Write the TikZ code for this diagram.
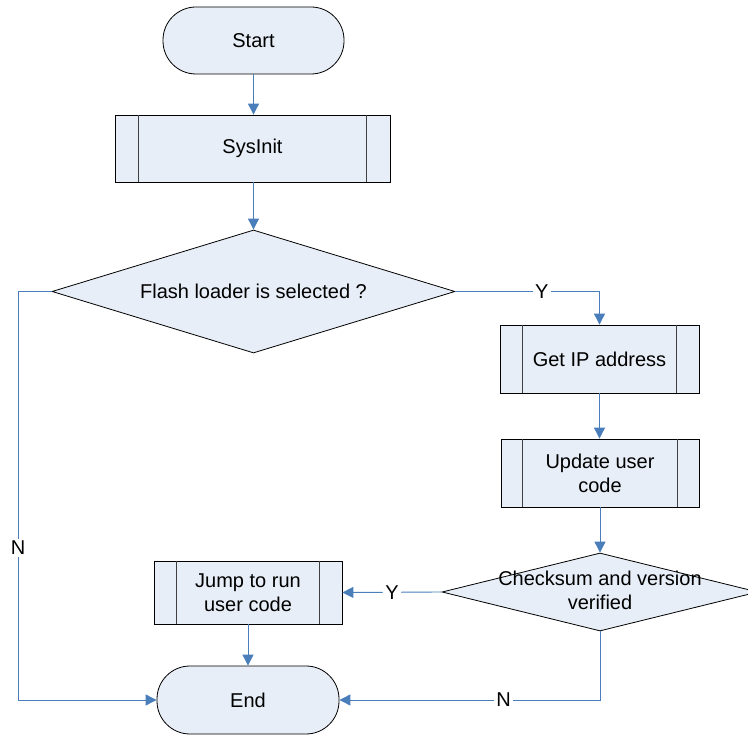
\documentclass[tikz,border=0pt]{standalone}
\usepackage{fontspec}
\setmainfont{Liberation Sans}
\usetikzlibrary{arrows.meta,shapes.geometric}
\definecolor{fillc}{HTML}{E8EEF7}
\definecolor{linec}{HTML}{4A7EBB}
\definecolor{innerc}{HTML}{404040}
\newcommand{\fcfont}{\fontsize{20pt}{24pt}\selectfont}
\tikzset{
  term/.style={draw=black, fill=fillc, rounded corners=33pt, line width=0.8pt, font=\fcfont, inner sep=0pt},
  proc/.style={draw=black, fill=fillc, line width=0.8pt, font=\fcfont, align=center, inner sep=0pt},
  dec/.style={diamond, draw=black, fill=fillc, line width=0.8pt, inner sep=0pt},
  dtext/.style={font=\fcfont, align=center, inner sep=0pt},
  innerline/.style={draw=innerc, line width=0.8pt},
  conn/.style={draw=linec, line width=0.9pt, -{Triangle[length=11pt,width=11pt]}},
  lab/.style={fill=white, inner sep=2pt, font=\fcfont}
}
\begin{document}
\begin{tikzpicture}[x=1pt,y=-1pt]
\useasboundingbox (0,0) rectangle (748,735);
\node[term, minimum width=181pt, minimum height=67pt] (start) at (253.5,40.5) {Start};
\node[proc, minimum width=275pt, minimum height=67pt] (sys) at (252.5,148.5) {SysInit};
\draw[innerline] ([xshift=24pt]sys.north west) -- ([xshift=24pt]sys.south west);
\draw[innerline] ([xshift=-24pt]sys.north east) -- ([xshift=-24pt]sys.south east);
\node[dec, minimum width=403pt, minimum height=123pt] (d1) at (253.5,291.5) {};
\node[dtext] (d1t) at (d1) {Flash loader is selected ?};
\node[proc, minimum width=199pt, minimum height=68pt] (ip) at (599.5,359) {Get IP address};
\draw[innerline] ([xshift=23pt]ip.north west) -- ([xshift=23pt]ip.south west);
\draw[innerline] ([xshift=-23pt]ip.north east) -- ([xshift=-23pt]ip.south east);
\node[proc, minimum width=198pt, minimum height=68pt] (upd) at (600,473) {Update user\\code};
\draw[innerline] ([xshift=22pt]upd.north west) -- ([xshift=22pt]upd.south west);
\draw[innerline] ([xshift=-22pt]upd.north east) -- ([xshift=-22pt]upd.south east);
\node[dec, minimum width=316pt, minimum height=78pt] (d2) at (600,592) {};
\node[dtext] (d2t) at (600,590.5) {Checksum and version\\verified};
\node[proc, minimum width=188pt, minimum height=63pt] (jump) at (248,592.5) {Jump to run\\user code};
\draw[innerline] ([xshift=23pt]jump.north west) -- ([xshift=23pt]jump.south west);
\draw[innerline] ([xshift=-23pt]jump.north east) -- ([xshift=-23pt]jump.south east);
\node[term, minimum width=182pt, minimum height=68pt] (end) at (248,700) {End};
\coordinate (lc) at (18,291.5);
\draw[conn] (start.south) -- (start.south |- sys.north);
\draw[conn] (d1.north |- sys.south) -- (d1.north);
\draw[conn] (d1.east) -| node[lab, pos=0.30] {Y} (ip.north);
\draw[conn] (ip.south) -- (ip.south |- upd.north);
\draw[conn] (upd.south) -- (d2.north);
\draw[conn] (d2.west) -- node[lab] {Y} (jump.east);
\draw[conn] (jump.south) -- (end.north);
\draw[conn] (d2.south) |- node[lab, pos=0.685] {N} (end.east);
\draw[conn] (d1.west) -- (lc) |- node[lab, pos=0.314] {N} (end.west);
\end{tikzpicture}
\end{document}
